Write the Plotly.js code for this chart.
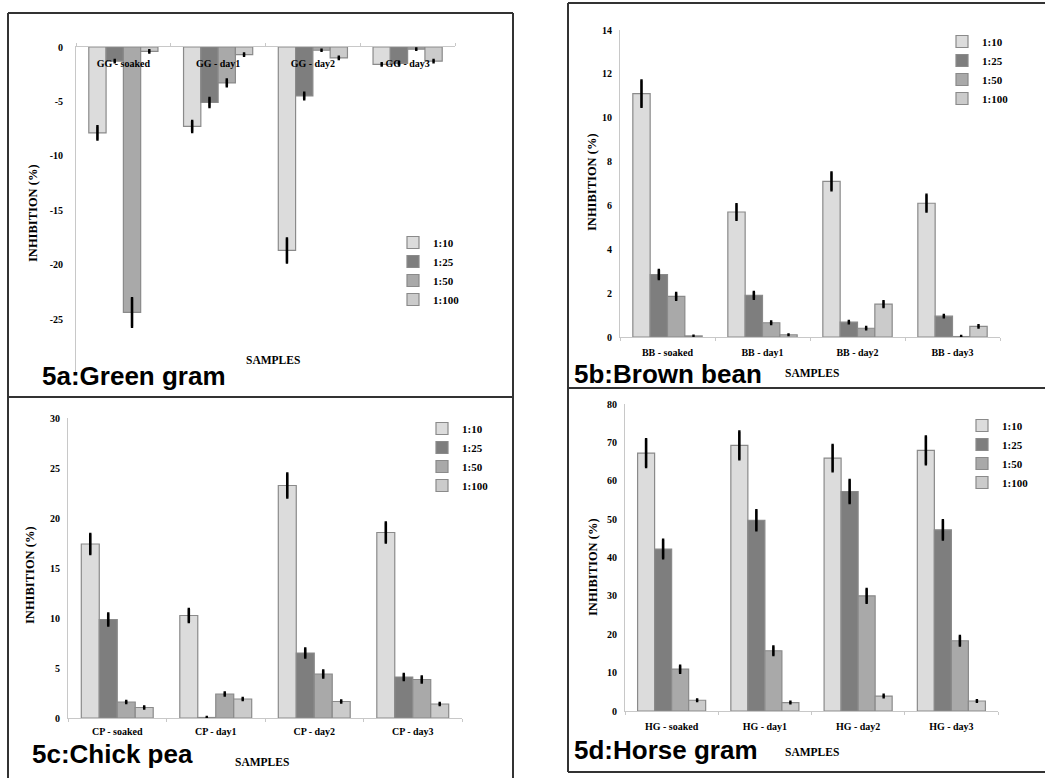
<!DOCTYPE html>
<html><head><meta charset="utf-8">
<script src="https://cdn.plot.ly/plotly-3.0.1.min.js"></script>
<style>html,body{margin:0;padding:0;background:#fff}#chart{width:1045px;height:778px}</style>
</head><body><div id="chart"></div>
<script>
// ---------- data ----------
const ratios = ['1:10', '1:25', '1:50', '1:100'];

const catsGG = ['GG - soaked', 'GG - day1', 'GG - day2', 'GG - day3'];
const valsGG = [
  [-7.9, -7.3, -18.7, -1.6],
  [-1.3, -5.1, -4.5, -1.5],
  [-24.4, -3.3, -0.3, -0.2],
  [-0.4, -0.7, -1.0, -1.3]
];
const errsGG = [
  [0.6, 0.5, 1.1, 0.1],
  [0.1, 0.4, 0.3, 0.1],
  [1.3, 0.3, 0.05, 0.05],
  [0.1, 0.1, 0.1, 0.1]
];

const catsBB = ['BB - soaked', 'BB - day1', 'BB - day2', 'BB - day3'];
const valsBB = [
  [11.1, 5.7, 7.1, 6.1],
  [2.85, 1.9, 0.68, 0.95],
  [1.85, 0.65, 0.4, 0.02],
  [0.05, 0.1, 1.5, 0.48]
];
const errsBB = [
  [0.6, 0.35, 0.4, 0.38],
  [0.2, 0.15, 0.05, 0.05],
  [0.15, 0.05, 0.05, 0.02],
  [0.01, 0.01, 0.13, 0.05]
];

const catsCP = ['CP - soaked', 'CP - day1', 'CP - day2', 'CP - day3'];
const valsCP = [
  [17.4, 10.25, 23.25, 18.55],
  [9.85, 0.05, 6.5, 4.1],
  [1.6, 2.4, 4.4, 3.85],
  [1.05, 1.9, 1.65, 1.4]
];
const errsCP = [
  [1.0, 0.65, 1.2, 1.0],
  [0.6, 0.05, 0.45, 0.3],
  [0.1, 0.15, 0.35, 0.3],
  [0.1, 0.1, 0.1, 0.1]
];

const catsHG = ['HG - soaked', 'HG - day1', 'HG - day2', 'HG - day3'];
const valsHG = [
  [67.2, 69.2, 65.9, 67.9],
  [42.2, 49.7, 57.2, 47.2],
  [10.9, 15.7, 30.0, 18.3],
  [2.8, 2.2, 3.9, 2.6]
];
const errsHG = [
  [3.6, 3.6, 3.4, 3.6],
  [2.4, 2.6, 3.0, 2.5],
  [0.9, 1.1, 1.8, 1.2],
  [0.2, 0.2, 0.3, 0.2]
];

const ticksGG = [0, -5, -10, -15, -20, -25];
const ticksBB = [0, 2, 4, 6, 8, 10, 12, 14];
const ticksCP = [0, 5, 10, 15, 20, 25, 30];
const ticksHG = [0, 10, 20, 30, 40, 50, 60, 70, 80];

const panelTitles = ['5a:Green gram', '5b:Brown bean', '5c:Chick pea', '5d:Horse gram'];
const yTitle = 'INHIBITION (%)';
const xTitle = 'SAMPLES';

// ---------- style ----------
const W = 1045, H = 778;
const px = v => v / W;
const py = v => 1 - v / H;
const colors = ['#dcdcdc', '#7e7e7e', '#a9a9a9', '#cbcbcb'];
const serif = 'Liberation Serif, Times New Roman, serif';
const tickFont = {family: serif, size: 10, color: '#000', weight: 'bold'};

const panels = [
  {cats: catsGG, vals: valsGG, errs: errsGG, xa: 'x', ya: 'y', lg: 'legend'},
  {cats: catsBB, vals: valsBB, errs: errsBB, xa: 'x2', ya: 'y2', lg: 'legend2'},
  {cats: catsCP, vals: valsCP, errs: errsCP, xa: 'x3', ya: 'y3', lg: 'legend3'},
  {cats: catsHG, vals: valsHG, errs: errsHG, xa: 'x4', ya: 'y4', lg: 'legend4'}
];

const traces = [];
panels.forEach(p => {
  ratios.forEach((r, i) => {
    traces.push({
      type: 'bar', name: r, x: p.cats, y: p.vals[i],
      xaxis: p.xa, yaxis: p.ya, legend: p.lg,
      marker: {color: colors[i], line: {color: '#8a8a8a', width: 1.2}},
      error_y: {type: 'data', array: p.errs[i], visible: true, color: '#000', thickness: 2.6, width: 1.2}
    });
  });
});

function xax(d0, d1, anchor, extra) {
  return Object.assign({
    domain: [px(d0), px(d1)], anchor: anchor, type: 'category',
    showline: true, linecolor: '#c8c8c8', linewidth: 1,
    ticks: 'outside', tickson: 'boundaries', ticklen: 3, tickcolor: '#c8c8c8',
    tickfont: tickFont, showgrid: false, zeroline: false, fixedrange: true
  }, extra || {});
}
function yax(top, bottom, anchor, range, tv, standoff) {
  return {
    domain: [py(bottom), py(top)], anchor: anchor, range: range,
    tickvals: tv, ticktext: tv.map(String), ticks: '',
    ticklabelstandoff: standoff,
    showline: true, linecolor: '#c8c8c8', linewidth: 1,
    tickfont: tickFont, showgrid: false, zeroline: false, fixedrange: true
  };
}
function legendAt(xText, yFirst) {
  return {
    x: px(xText - 40), y: py(yFirst - 10), xanchor: 'left', yanchor: 'top',
    bgcolor: 'rgba(0,0,0,0)', borderwidth: 0, itemwidth: 30, tracegroupgap: 0,
    font: {family: serif, size: 11, color: '#000', weight: 'bold'}
  };
}

const ann = [];
function addText(text, x, y, font, extra) {
  ann.push(Object.assign({text: text, x: px(x), y: py(y), xref: 'paper', yref: 'paper',
    showarrow: false, xanchor: 'center', yanchor: 'middle', font: font}, extra || {}));
}
const yTitleFont = {family: serif, size: 12.5, color: '#000', weight: 'bold'};
const xTitleFont = {family: serif, size: 11.5, color: '#000', weight: 'bold'};
const bigFont = {family: 'Liberation Sans, Arial, sans-serif', size: 26, color: '#000', weight: 'bold'};

addText(yTitle, 33, 213, yTitleFont, {textangle: -90});
addText(yTitle, 592, 182, yTitleFont, {textangle: -90});
addText(yTitle, 30, 575, yTitleFont, {textangle: -90});
addText(yTitle, 593, 567, yTitleFont, {textangle: -90});
addText(xTitle, 273, 360, xTitleFont);
addText(xTitle, 812, 373, xTitleFont);
addText(xTitle, 262, 762, xTitleFont);
addText(xTitle, 812, 752, xTitleFont);
addText(panelTitles[0], 40, 376, bigFont, {xanchor: 'left'});
addText(panelTitles[1], 572, 374, bigFont, {xanchor: 'left'});
addText(panelTitles[2], 30, 754, bigFont, {xanchor: 'left'});
addText(panelTitles[3], 572, 750, bigFont, {xanchor: 'left'});

const ln = (x0, y0, x1, y1) => ({type: 'line', xref: 'paper', yref: 'paper',
  x0: px(x0), y0: py(y0), x1: px(x1), y1: py(y1), line: {color: '#333', width: 2}});
const shapes = [
  ln(8, 13, 513, 13), ln(8, 13, 8, 780), ln(513, 13, 513, 780), ln(8, 397, 513, 397),
  ln(568, 3, 1050, 3), ln(568, 3, 568, 772), ln(568, 388, 1050, 388), ln(568, 772, 1050, 772)
];

const layout = {
  width: W, height: H, margin: {l: 0, r: 0, t: 0, b: 0},
  paper_bgcolor: '#fff', plot_bgcolor: 'rgba(0,0,0,0)',
  barmode: 'group', bargap: 0.27, bargroupgap: 0,
  font: {family: serif, color: '#000'},
  xaxis: xax(76, 455, 'y', {side: 'top', ticklabelstandoff: -25}),
  yaxis: yax(47, 373.4, 'x', [-30, 0], ticksGG, 10),
  xaxis2: xax(620, 1000, 'y2', {ticklabelstandoff: 6}),
  yaxis2: yax(30, 337, 'x2', [0, 14], ticksBB, 5),
  xaxis3: xax(68, 462, 'y3', {ticklabelstandoff: 4}),
  yaxis3: yax(418, 718, 'x3', [0, 30], ticksCP, 5),
  xaxis4: xax(625, 998, 'y4', {ticklabelstandoff: 6}),
  yaxis4: yax(404, 711, 'x4', [0, 80], ticksHG, 5),
  legend: legendAt(433, 238),
  legend2: legendAt(982, 37),
  legend3: legendAt(462, 424),
  legend4: legendAt(1002, 421),
  annotations: ann, shapes: shapes, showlegend: true
};

Plotly.newPlot('chart', traces, layout, {displayModeBar: false, staticPlot: true});
</script></body></html>
